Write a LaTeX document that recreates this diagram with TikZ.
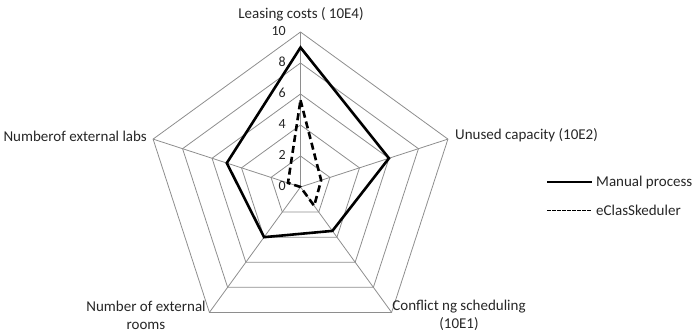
\documentclass[tikz,border=0pt]{standalone}
\usepackage{fontspec}
\setmainfont{Carlito}
\usetikzlibrary{calc}
\definecolor{gridgray}{HTML}{8E8E8E}
\begin{document}
\begin{tikzpicture}[x=1pt,y=1pt,
  grid/.style={draw=gridgray, line width=0.8pt},
  manual/.style={draw=black, line width=2.6pt, line join=miter},
  eclas/.style={draw=black, line width=2.6pt, dash pattern=on 7pt off 4pt},
  axislabel/.style={font=\fontsize{15}{18}\selectfont, inner sep=0pt, text=black!85},
  ticklabel/.style={font=\fontsize{14}{16}\selectfont, anchor=east, inner sep=0pt, text=black!85},
  legendline/.style={draw=black, line width=1.2pt}]
\useasboundingbox (0,-335) rectangle (692,0);
\coordinate (C) at (300.5,-187);
\def\unit{15.5}
% outer vertices of the five axes
\coordinate (vLease) at ($(C)+(90:155pt)$);
\coordinate (vUnused) at ($(C)+(18:155pt)$);
\coordinate (vConf) at ($(C)+(-54:155pt)$);
\coordinate (vRooms) at ($(C)+(-126:155pt)$);
\coordinate (vLabs) at ($(C)+(162:155pt)$);
% pentagonal rings
\foreach \rr in {31,62,93,124,155}{
  \draw[grid] ($(C)+(90:\rr pt)$) -- ($(C)+(18:\rr pt)$) -- ($(C)+(-54:\rr pt)$)
    -- ($(C)+(-126:\rr pt)$) -- ($(C)+(162:\rr pt)$) -- cycle;
}
% spokes
\foreach \v in {vLease,vUnused,vConf,vRooms,vLabs}
  \draw[grid] (C) -- (\v);
% scale labels
\foreach \t [count=\i from 0] in {0,2,4,6,8,10}
  \node[ticklabel] (tick\i) at (286,{-187+\i*31+1}) {\t};
% manual process series
\draw[manual] ($(C)+(90:{9*\unit pt})$) -- ($(C)+(18:{6*\unit pt})$)
  -- ($(C)+(-54:{3.5*\unit pt})$) -- ($(C)+(-126:{4*\unit pt})$)
  -- ($(C)+(162:{5*\unit pt})$) -- cycle;
% eClasSkeduler series
\draw[eclas] ($(C)+(90:{5.6*\unit pt})$) -- ($(C)+(18:{1.4*\unit pt})$)
  -- ($(C)+(-54:{1.5*\unit pt})$) -- (C)
  -- ($(C)+(162:{0.85*\unit pt})$) -- cycle;
% axis titles
\node[axislabel] (tLease) at (301,-14) {Leasing costs ( 10E4)};
\node[axislabel, anchor=west] (tUnused) at (455,-135) {Unused capacity (10E2)};
\node[axislabel, anchor=east] (tLabs) at (147,-136) {Numberof external labs};
\node[axislabel, align=center] (tRooms) at (146,-315) {Number of external\\rooms};
\node[axislabel, align=center] (tConf) at (459,-315) {Conflict ng scheduling\\(10E1)};
% legend
\node[axislabel, anchor=west] (lgManual) at (596,-182) {Manual process};
\node[axislabel, anchor=west] (lgEclas) at (596,-210) {eClasSkeduler};
\coordinate (lgManualStart) at (547,-182);
\coordinate (lgEclasStart) at (547,-210);
\draw[legendline] (lgManualStart) -- (lgManual.west -| 592,0);
\draw[legendline, line width=1pt, dash pattern=on 3.5pt off 1.5pt] (lgEclasStart) -- (lgEclas.west -| 592,0);
\end{tikzpicture}
\end{document}
